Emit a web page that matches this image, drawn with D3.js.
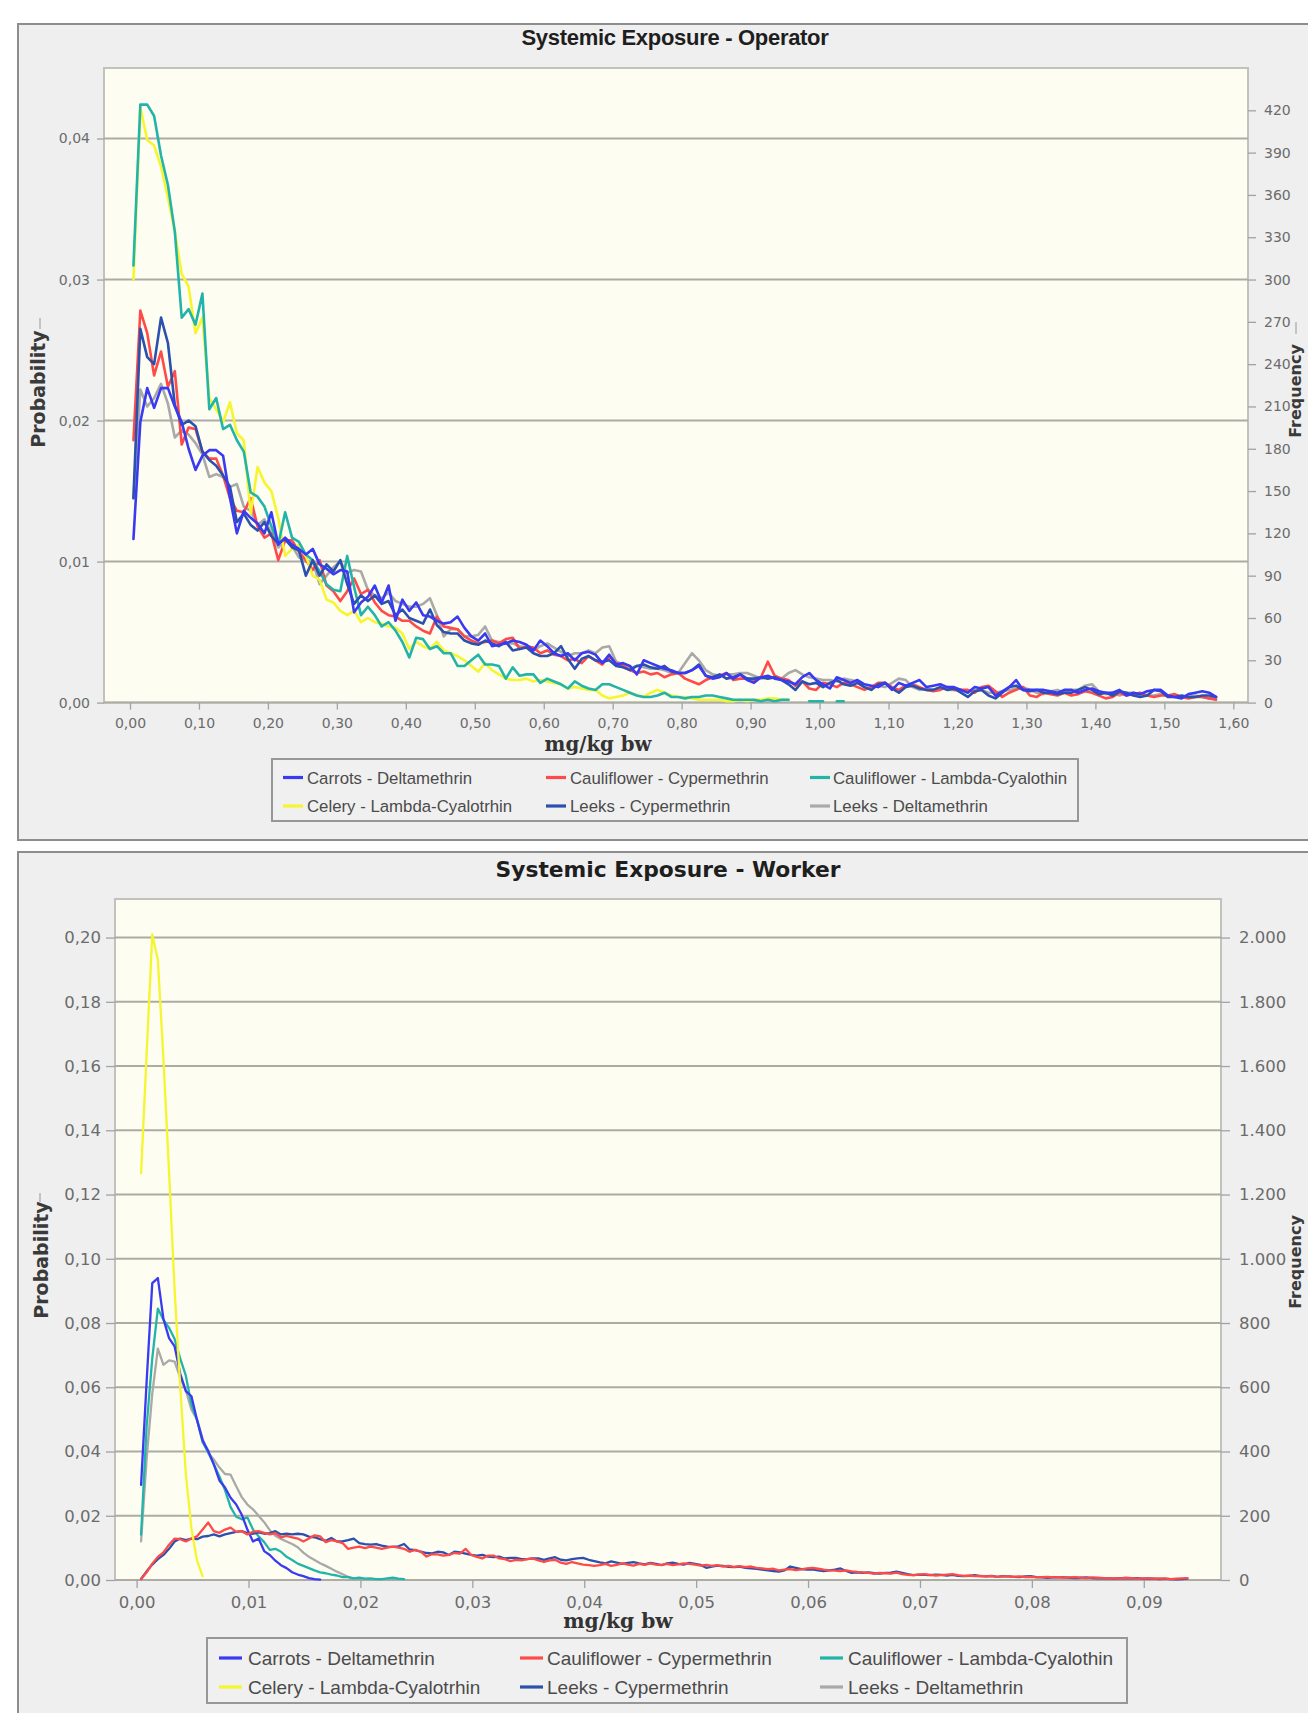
<!DOCTYPE html>
<html>
<head>
<meta charset="utf-8">
<script src="https://cdn.jsdelivr.net/npm/d3@7"></script>
<style>
  body { margin: 0; background: #fff; }
  svg { display: block; }
</style>
</head>
<body>
<div id="wrapper"></div>
<script>
// counts per bin out of 10000 iterations (right axis), probability = count / iterations
const iterations = 10000

const seriesNames = ["Carrots - Deltamethrin", "Cauliflower - Cypermethrin", "Cauliflower - Lambda-Cyalothin",
                     "Celery - Lambda-Cyalotrhin", "Leeks - Cypermethrin", "Leeks - Deltamethrin"]
const seriesColors = ["#3a3af2", "#ff4a4a", "#23b4a9", "#f5f530", "#2b50ad", "#a9a9a9"]

// ---- Operator: bins of 0.01 mg/kg bw, first bin centre 0.005
const operatorBinStart = 0.005
const operatorBinWidth = 0.01

const opCarrotsDelta = [116, 199, 223, 209, 223, 223, 210, 199, 180, 165, 175, 179, 179, 175, 145, 120, 136, 131, 127, 120,
  135, 112, 117, 112, 109, 105, 109, 98, 95, 91, 94, 93, 64, 71, 75, 83, 71, 83, 58, 73, 65, 71, 62, 61, 58,
  56, 57, 61, 53, 47, 44, 49, 40, 41, 42, 44, 43, 41, 37, 44, 40, 35, 33, 35, 30, 35, 36, 34, 28, 34, 27, 28, 26, 20, 30,
  28, 26, 24, 23, 21, 21, 23, 26, 19, 17, 18, 21, 17, 20, 16, 14, 18, 19, 17, 16, 15, 13, 18, 21, 16, 13, 10, 18, 16, 14,
  16, 13, 12, 11, 14, 9, 14, 12, 14, 16, 11, 12, 13, 11, 11, 9, 7, 11, 10, 11, 5, 8, 11, 16, 9, 9, 9, 9, 8, 7,
  9, 9, 7, 9, 10, 8, 7, 7, 9, 5, 7, 6, 8, 9, 9, 5, 4, 3, 6, 7, 8, 7, 4]
const opCauliCyper = [186, 278, 262, 232, 249, 224, 235, 183, 195, 194, 178, 173, 173, 161, 145, 136, 135, 145, 125, 117,
  120, 101, 115, 115, 107, 101, 94, 101, 83, 79, 72, 79, 88, 77, 80, 71, 65, 62, 61, 58, 58, 54, 51, 49, 61,
  54, 53, 52, 47, 44, 42, 43, 44, 42, 45, 46, 38, 40, 39, 35, 37, 34, 33, 30, 31, 28, 33, 30, 27, 33, 28, 26, 23, 21, 22,
  20, 21, 18, 20, 21, 17, 15, 13, 16, 18, 19, 21, 16, 17, 17, 16, 18, 29, 19, 17, 16, 12, 15, 10, 9, 14, 13, 11, 14, 13,
  11, 9, 11, 14, 14, 11, 9, 12, 13, 11, 9, 8, 9, 11, 9, 9, 9, 7, 11, 12, 8, 4, 7, 9, 11, 5, 4, 7, 6, 5,
  7, 5, 6, 8, 7, 5, 3, 4, 7, 5, 6, 7, 5, 4, 5, 5, 6, 4, 3, 4, 4, 3, 2]
const opCauliLambda = [310, 424, 424, 416, 388, 367, 334, 273, 279, 268, 290, 208, 216, 194, 197, 186, 178, 149, 146, 139,
  125, 112, 135, 117, 114, 105, 101, 93, 84, 80, 79, 104, 82, 62, 68, 62, 54, 57, 51, 43, 32, 46, 45, 38, 40,
  35, 35, 26, 26, 30, 34, 27, 27, 26, 17, 25, 19, 20, 20, 14, 17, 15, 13, 10, 15, 12, 10, 9, 13, 13, 11, 9, 7, 5, 4,
  4, 5, 7, 4, 4, 3, 4, 4, 5, 5, 4, 3, 2, 2, 2, 2, 1, 2, 1, 2, 2, null, null, 1, 1, 1, null, 1, 1]
const opCeleryLambda = [300, 422, 399, 395, 380, 358, 334, 304, 295, 262, 273, 216, 208, 199, 213, 191, 186, 134, 167, 156,
  150, 131, 104, 109, 112, 104, 90, 87, 73, 71, 65, 62, 65, 57, 60, 57, 56, 54, 53, 49, 38, 43, 40, 38, 43,
  37, 35, 33, 30, 26, 22, 28, 23, 20, 17, 16, 16, 17, 15, 16, 15, 14, 13, 10, 11, 10, 9, 9, 5, 3, 4, 5, 7, 5, 4,
  7, 9, 7, 5, 4, 4, 3, 2, 2, 2, 2, 1, 1, 2, 1, 2, 2, 3, 3, 2, 2]
const opLeeksCyper = [145, 265, 245, 240, 273, 255, 211, 197, 200, 196, 178, 172, 168, 161, 153, 128, 134, 126, 122, 128,
  118, 113, 116, 110, 108, 90, 101, 90, 98, 93, 101, 84, 70, 76, 72, 76, 70, 72, 62, 66, 60, 58, 56, 66, 55,
  50, 49, 49, 44, 42, 41, 44, 42, 40, 43, 37, 38, 39, 35, 33, 33, 35, 40, 31, 24, 31, 33, 30, 29, 30, 26, 25, 23, 26, 27,
  25, 24, 26, 22, 21, 21, 23, 27, 19, 18, 20, 17, 18, 20, 17, 17, 18, 17, 18, 16, 13, 9, 15, 13, 14, 11, 14, 16, 13, 12,
  14, 11, 9, 13, 14, 10, 7, 11, 12, 10, 9, 9, 11, 9, 10, 7, 4, 8, 9, 5, 3, 7, 11, 12, 9, 8, 9, 7, 7, 6,
  7, 7, 9, 11, 9, 6, 7, 5, 8, 7, 5, 4, 5, 9, 8, 4, 4, 5, 4, 4, 5, 5, 4]
const opLeeksDelta = [145, 222, 210, 216, 226, 212, 188, 193, 190, 184, 176, 160, 162, 160, 153, 155, 139, 136, 126, 130,
  120, 110, 115, 111, 103, 100, 100, 84, 90, 96, 100, 92, 94, 93, 80, 76, 74, 78, 72, 70, 68, 68, 70, 74, 62,
  47, 52, 52, 47, 47, 48, 54, 44, 43, 42, 42, 40, 39, 37, 40, 42, 39, 36, 33, 35, 35, 37, 35, 39, 40, 29, 27, 24, 26, 25,
  24, 24, 23, 21, 21, 28, 35, 30, 23, 20, 19, 20, 20, 21, 21, 19, 17, 18, 18, 17, 21, 23, 20, 18, 17, 16, 16, 15, 17, 16,
  15, 11, 10, 12, 11, 14, 17, 16, 11, 9, 10, 9, 11, 9, 9, 9, 8, 9, 9, 7, 7, 8, 9, 10, 11, 9, 7, 6, 8, 9,
  7, 9, 9, 12, 13, 8, 6, 7, 5, 7, 7, 5, 5, 5, 6, 5, 4, 4, 4, 5, 4, 3, 3]

const operatorXTicks = [0, 0.1, 0.2, 0.3, 0.4, 0.5, 0.6, 0.7, 0.8, 0.9, 1.0, 1.1, 1.2, 1.3, 1.4, 1.5, 1.6]
const operatorProbTicks = [0, 0.01, 0.02, 0.03, 0.04]
const operatorFreqTicks = [0, 30, 60, 90, 120, 150, 180, 210, 240, 270, 300, 330, 360, 390, 420]

// ---- Worker: bins of 0.0005 mg/kg bw, first bin centre 0.0004
const workerBinStart = 0.0004
const workerBinWidth = 0.0005

const wkCarrotsDelta = [296, 620, 924, 940, 812, 753, 727, 642, 588, 572, 498, 434, 402, 360, 310, 288, 256, 235, 203, 157,
  120, 129, 90, 78, 60, 46, 37, 24, 17, 12, 6, 3, 1]
const wkCauliCyper = [3, 24, 51, 72, 86, 110, 129, 127, 120, 129, 136, 157, 179, 152, 147, 157, 163, 150, 152, 142,
  150, 152, 147, 142, 146, 133, 137, 133, 129, 120, 129, 139, 136, 118, 124, 120, 115, 97, 101, 104,
  99, 104, 101, 97, 101, 104, 101, 97, 88, 94, 88, 73, 80, 80, 76, 78, 84, 82, 97, 78,
  72, 67, 76, 76, 67, 65, 59, 63, 61, 65, 67, 61, 56, 61, 63, 54, 50, 56, 52, 48, 46, 44,
  46, 50, 44, 47, 52, 48, 45, 50, 47, 52, 48, 47, 50, 46, 49, 52, 50, 48, 45, 47, 44, 46, 42, 44, 41, 43,
  40, 42, 38, 36, 34, 35, 30, 32, 34, 31, 33, 36, 38, 35, 32, 30, 29, 28, 30, 27, 25, 24, 22, 20,
  22, 21, 20, 23, 18, 16, 15, 17, 18, 16, 14, 15, 17, 18, 15, 13, 14, 12, 13, 11, 12, 10, 11, 12,
  10, 11, 9, 10, 8, 9, 10, 8, 9, 7, 8, 9, 7, 6, 8, 7, 6, 5, 6, 5, 7, 6, 4, 5, 5, 4, 5, 4, 3, 4, 5, 6]
const wkCauliLambda = [141, 480, 690, 845, 810, 785, 750, 689, 636, 546, 498, 429, 397, 360, 322, 280, 227, 197, 189, 195,
  157, 136, 118, 94, 97, 88, 72, 62, 51, 44, 37, 30, 24, 21, 17, 14, 9, 9, 5, 7, 4, 5, 3, 3, 5, 7, 4, 3]
const wkCeleryLambda = [1266, 1640, 2010, 1930, 1620, 1270, 900, 600, 330, 160, 60, 12]
const wkLeeksCyper = [3, 27, 48, 65, 78, 97, 120, 129, 124, 129, 127, 135, 137, 142, 136, 142, 146, 150, 152, 146,
  144, 148, 144, 146, 152, 142, 144, 142, 144, 142, 135, 133, 127, 122, 131, 120, 120, 124, 129, 115,
  112, 110, 112, 107, 104, 103, 105, 112, 95, 93, 88, 84, 83, 88, 86, 78, 88, 86, 82, 78,
  76, 78, 73, 71, 73, 67, 69, 69, 65, 65, 67, 67, 63, 67, 71, 63, 61, 65, 67, 69, 63, 59,
  55, 52, 58, 54, 50, 53, 56, 52, 49, 53, 50, 46, 52, 54, 50, 48, 53, 50, 47, 38, 42, 45, 44, 41, 40, 42,
  38, 36, 35, 32, 30, 28, 26, 30, 42, 38, 34, 32, 33, 30, 28, 30, 32, 36, 28, 22, 24, 22, 24, 21,
  20, 22, 23, 26, 22, 18, 15, 17, 16, 15, 17, 16, 14, 16, 13, 12, 13, 15, 12, 11, 13, 10, 12, 11,
  10, 9, 11, 12, 9, 8, 7, 8, 9, 8, 7, 6, 7, 8, 6, 5, 6, 5, 4, 6, 5, 5, 6, 4, 5, 4, 3, 4, 3, 2, 3, 4]
const wkLeeksDelta = [120, 380, 580, 720, 670, 684, 680, 630, 590, 530, 500, 440, 395, 375, 350, 330, 328, 292, 258, 235,
  220, 200, 180, 155, 138, 128, 120, 112, 102, 85, 72, 62, 52, 44, 35, 26, 18, 10, 4]

const workerXTicks = [0, 0.01, 0.02, 0.03, 0.04, 0.05, 0.06, 0.07, 0.08, 0.09]
const workerProbTicks = [0, 0.02, 0.04, 0.06, 0.08, 0.10, 0.12, 0.14, 0.16, 0.18, 0.20]
const workerFreqTicks = [0, 200, 400, 600, 800, 1000, 1200, 1400, 1600, 1800, 2000]

const locale = d3.formatLocale({ decimal: ",", thousands: ".", grouping: [3], currency: ["", ""] })

const svg = d3.select("#wrapper").append("svg")
  .attr("width", 1308)
  .attr("height", 1713)

function drawChart(cfg) {
  const g = svg.append("g")

  g.append("rect")
    .attr("x", cfg.panel[0]).attr("y", cfg.panel[1])
    .attr("width", cfg.panel[2]).attr("height", cfg.panel[3])
    .attr("fill", "#efefef").attr("stroke", "#8d8d8d").attr("stroke-width", 2)

  const p = cfg.plot
  const x = d3.scaleLinear().domain(cfg.xDomain).range([p.left, p.right])
  const yFreq = d3.scaleLinear().domain([0, cfg.freqMax]).range([p.bottom, p.top])
  const yProb = d3.scaleLinear().domain([0, cfg.freqMax / iterations]).range([p.bottom, p.top])

  g.append("rect")
    .attr("x", p.left).attr("y", p.top)
    .attr("width", p.right - p.left).attr("height", p.bottom - p.top)
    .attr("fill", "#fdfdf1").attr("stroke", "#c2c2bc").attr("stroke-width", 2)

  // gridlines on the probability ticks
  g.append("g").selectAll("line").data(cfg.probTicks).enter().append("line")
    .attr("x1", p.left).attr("x2", p.right)
    .attr("y1", d => yProb(d)).attr("y2", d => yProb(d))
    .attr("stroke", "#acaba4").attr("stroke-width", 2)

  const leftAxis = g.append("g")
    .attr("transform", `translate(${p.left},0)`)
    .call(d3.axisLeft(yProb).tickValues(cfg.probTicks).tickFormat(locale.format(".2f"))
      .tickSize(cfg.tick.left[0]).tickPadding(cfg.tick.left[1]))
  const rightAxis = g.append("g")
    .attr("transform", `translate(${p.right},0)`)
    .call(d3.axisRight(yFreq).tickValues(cfg.freqTicks).tickFormat(locale.format(",d"))
      .tickSize(cfg.tick.right[0]).tickPadding(cfg.tick.right[1]))
  const bottomAxis = g.append("g")
    .attr("transform", `translate(0,${p.bottom})`)
    .call(d3.axisBottom(x).tickValues(cfg.xTicks).tickFormat(locale.format(".2f"))
      .tickSize(cfg.tick.bottom[0]).tickPadding(cfg.tick.bottom[1]))

  ;[leftAxis, rightAxis, bottomAxis].forEach(a => {
    a.select(".domain").remove()
    a.selectAll(".tick line").attr("stroke", "#a2a2a2").attr("stroke-width", 1.3)
    a.selectAll(".tick text")
      .attr("fill", "#6b6b6b")
      .style("font-family", "'DejaVu Sans', Verdana, sans-serif")
      .style("font-size", cfg.tickFont + "px")
  })

  // series
  const line = d3.line()
    .defined(d => d.v != null)
    .x(d => x(d.x))
    .y(d => yFreq(d.v))

  cfg.drawOrder.forEach(k => {
    const pts = cfg.series[k].map((v, i) => ({ x: cfg.binStart + i * cfg.binWidth, v: v }))
    g.append("path")
      .datum(pts)
      .attr("d", line)
      .attr("fill", "none")
      .attr("stroke", seriesColors[k])
      .attr("stroke-width", cfg.lineWidth)
      .attr("stroke-linejoin", "round")
      .attr("stroke-linecap", "round")
  })

  // title
  g.append("text")
    .attr("x", cfg.title.x).attr("y", cfg.title.y)
    .attr("text-anchor", "middle")
    .style("font-family", cfg.title.font)
    .style("font-size", cfg.title.size + "px")
    .style("font-weight", "bold")
    .style("letter-spacing", cfg.title.spacing + "px")
    .attr("fill", "#1e1e1e")
    .text(cfg.title.text)

  // axis titles
  g.append("text")
    .attr("x", cfg.xLabel.x).attr("y", cfg.xLabel.y)
    .attr("text-anchor", "middle")
    .style("font-family", "'DejaVu Serif', Cambria, serif")
    .style("font-size", cfg.xLabel.size + "px")
    .style("font-weight", "bold")
    .attr("fill", "#333")
    .text("mg/kg bw")

  g.append("text")
    .attr("transform", `translate(${cfg.probLabel.x},${cfg.probLabel.y}) rotate(-90)`)
    .attr("text-anchor", "middle")
    .style("font-family", "'DejaVu Sans', Verdana, sans-serif")
    .style("font-size", "19px")
    .style("font-weight", "bold")
    .attr("fill", "#3a3a3a")
    .text("Probability")

  // the frequency title sits at the very right edge of the page
  g.append("text")
    .attr("transform", `translate(${cfg.freqLabel.x},${cfg.freqLabel.y}) rotate(-90)`)
    .attr("text-anchor", "middle")
    .style("font-family", "'DejaVu Sans', Verdana, sans-serif")
    .style("font-size", "16px")
    .style("font-weight", "bold")
    .attr("fill", "#3a3a3a")
    .text("Frequency")

  cfg.marks.forEach(m => {
    g.append("line")
      .attr("x1", m[0]).attr("x2", m[0]).attr("y1", m[1]).attr("y2", m[2])
      .attr("stroke", "#b4b4b4").attr("stroke-width", 1.5)
  })

  // legend
  const L = cfg.legend
  g.append("rect")
    .attr("x", L.box[0]).attr("y", L.box[1]).attr("width", L.box[2]).attr("height", L.box[3])
    .attr("fill", "#f0f0f0").attr("stroke", "#979797").attr("stroke-width", 2)

  const items = g.append("g").selectAll("g").data(seriesNames).enter().append("g")
    .attr("transform", (d, i) => `translate(0,${L.rows[Math.floor(i / 3)]})`)
  items.append("line")
    .attr("x1", (d, i) => L.swatch[i % 3]).attr("x2", (d, i) => L.swatch[i % 3] + L.swatchLen)
    .attr("y1", 0).attr("y2", 0)
    .attr("stroke", (d, i) => seriesColors[i]).attr("stroke-width", 3.2)
  items.append("text")
    .attr("x", (d, i) => L.text[i % 3])
    .attr("dy", "0.36em")
    .style("font-family", "'Liberation Sans', Arial, sans-serif")
    .style("font-size", L.size + "px")
    .attr("fill", "#4b4b4b")
    .text(d => d)
}

drawChart({
  panel: [18, 24, 1310, 816],
  plot: { left: 104, right: 1248, top: 68, bottom: 702.6 },
  xDomain: [-0.0377, 1.6213],
  freqMax: 450,
  probTicks: operatorProbTicks,
  freqTicks: operatorFreqTicks,
  xTicks: operatorXTicks,
  tick: { left: [7, 7], right: [8, 8], bottom: [7, 8] },
  tickFont: 14,
  binStart: operatorBinStart,
  binWidth: operatorBinWidth,
  series: [opCarrotsDelta, opCauliCyper, opCauliLambda, opCeleryLambda, opLeeksCyper, opLeeksDelta],
  drawOrder: [5, 1, 3, 2, 4, 0],
  lineWidth: 2.6,
  title: { text: "Systemic Exposure - Operator", x: 675, y: 45, size: 22, spacing: -0.3, font: "'Liberation Sans', Arial, sans-serif" },
  xLabel: { x: 598, y: 751, size: 19.7 },
  probLabel: { x: 45, y: 389 },
  freqLabel: { x: 1301, y: 391 },
  marks: [[40, 318, 329], [1296, 322, 334]],
  legend: { box: [272, 759, 806, 62], swatch: [283, 546, 810], swatchLen: 20, text: [307, 570, 833], rows: [777.5, 806], size: 16.8 }
})

drawChart({
  panel: [18, 852, 1310, 880],
  plot: { left: 115, right: 1221, top: 899, bottom: 1580 },
  xDomain: [-0.00193, 0.0969],
  freqMax: 2120,
  probTicks: workerProbTicks,
  freqTicks: workerFreqTicks,
  xTicks: workerXTicks,
  tick: { left: [9, 5], right: [9, 9], bottom: [8, 8] },
  tickFont: 16.5,
  binStart: workerBinStart,
  binWidth: workerBinWidth,
  series: [wkCarrotsDelta, wkCauliCyper, wkCauliLambda, wkCeleryLambda, wkLeeksCyper, wkLeeksDelta],
  drawOrder: [5, 2, 0, 4, 1, 3],
  lineWidth: 2.3,
  title: { text: "Systemic Exposure - Worker", x: 668, y: 877, size: 21.8, spacing: 0, font: "'DejaVu Sans', Verdana, sans-serif" },
  xLabel: { x: 618, y: 1628, size: 20.2 },
  probLabel: { x: 48, y: 1260 },
  freqLabel: { x: 1301, y: 1262 },
  marks: [[40, 1193, 1202]],
  legend: { box: [207, 1638, 920, 65], swatch: [219, 520, 820], swatchLen: 23, text: [248, 547, 848], rows: [1658, 1687], size: 19 }
})
</script>
</body>
</html>
